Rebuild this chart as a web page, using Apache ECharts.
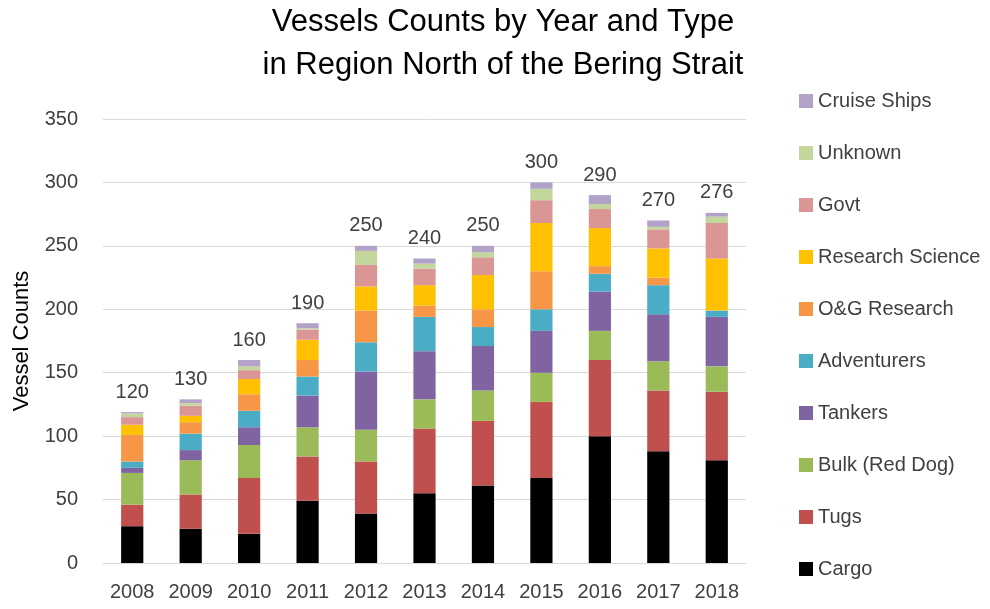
<!DOCTYPE html>
<html>
<head>
<meta charset="utf-8">
<script src="https://cdn.jsdelivr.net/npm/echarts@6/dist/echarts.min.js"></script>
<style>html,body{margin:0;padding:0;background:#fff;}#c{width:990px;height:609px;}</style>
</head>
<body>
<div id="c"></div>
<script>
const years = ['2008','2009','2010','2011','2012','2013','2014','2015','2016','2017','2018'];
const cargo       = [29, 27, 23, 49, 39, 55, 61, 67, 100, 88, 81];
const tugs        = [17, 27, 44, 35, 41, 51, 51, 60, 60, 48, 54];
const bulk        = [25, 27, 26, 23, 25, 23, 24, 23, 23, 23, 20];
const tankers     = [4, 8, 14, 25, 46, 38, 35, 33, 31, 37, 39];
const adventurers = [5, 13, 13, 15, 23, 27, 15, 17, 14, 23, 5];
const ogResearch  = [21, 9, 13, 13, 25, 9, 14, 30, 6, 6, 0];
const research    = [8, 5, 12, 16, 19, 16, 27, 38, 30, 23, 41];
const govt        = [6, 8, 7, 8, 17, 13, 14, 18, 15, 15, 28];
const unknown     = [3, 2, 3, 1, 11, 4, 4, 9, 4, 2, 5];
const cruise      = [1, 3, 5, 4, 4, 4, 5, 5, 7, 5, 3];
const totals      = [120, 130, 160, 190, 250, 240, 250, 300, 290, 270, 276];
const yTicks = { min: 0, max: 350, interval: 50 };

const seriesDefs = [
  ['Cargo', cargo, '#000000'],
  ['Tugs', tugs, '#C0504D'],
  ['Bulk (Red Dog)', bulk, '#9BBB59'],
  ['Tankers', tankers, '#8064A2'],
  ['Adventurers', adventurers, '#4BACC6'],
  ['O&G Research', ogResearch, '#F79646'],
  ['Research Science', research, '#FFC000'],
  ['Govt', govt, '#D99694'],
  ['Unknown', unknown, '#C3D69B'],
  ['Cruise Ships', cruise, '#B3A2C7']
];

const font = 'Liberation Sans, Arial, sans-serif';
const series = seriesDefs.map((d, i) => {
  const s = {
    name: d[0], type: 'bar', stack: 'all', data: d[1], barWidth: '38%',
    itemStyle: { color: d[2] }
  };
  if (i === seriesDefs.length - 1) {
    s.label = {
      show: true, position: 'top', distance: 10,
      formatter: p => String(totals[p.dataIndex]),
      fontSize: 20, color: '#404040', fontFamily: font
    };
  }
  return s;
});

const chart = echarts.init(document.getElementById('c'), null, { renderer: 'canvas' });
chart.setOption({
  animation: false,
  backgroundColor: '#ffffff',
  title: {
    text: 'Vessels Counts by Year and Type\nin Region North of the Bering Strait',
    left: 498, top: -4, textAlign: 'center',
    textStyle: { fontSize: 31, fontWeight: 'normal', color: '#000', fontFamily: font, lineHeight: 43 }
  },
  legend: {
    orient: 'vertical', left: 794, top: 86,
    itemWidth: 14, itemHeight: 14, itemGap: 32, icon: 'rect',
    data: seriesDefs.map(d => d[0]).reverse(),
    textStyle: { fontSize: 20, color: '#404040', fontFamily: font, lineHeight: 20 }
  },
  grid: { left: 103, right: 244, top: 119, bottom: 46 },
  xAxis: {
    type: 'category', data: years,
    axisLine: { lineStyle: { color: '#D9D9D9', width: 1 } },
    axisTick: { show: false },
    axisLabel: { fontSize: 20, color: '#404040', margin: 19, fontFamily: font }
  },
  yAxis: {
    type: 'value', min: yTicks.min, max: yTicks.max, interval: yTicks.interval,
    name: 'Vessel Counts', nameLocation: 'middle', nameGap: 70, nameRotate: 90,
    nameTextStyle: { fontSize: 22, color: '#000', fontFamily: font },
    axisLine: { show: false }, axisTick: { show: false },
    axisLabel: { fontSize: 20, color: '#404040', margin: 25, fontFamily: font },
    splitLine: { lineStyle: { color: '#D9D9D9', width: 1 } }
  },
  series: series
});
</script>
</body>
</html>
